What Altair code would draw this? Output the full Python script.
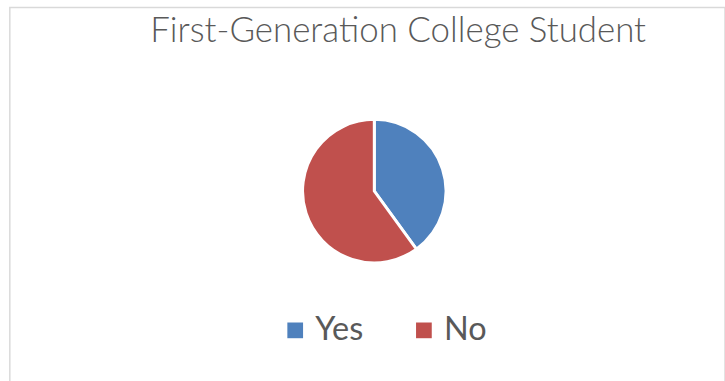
import altair as alt
import pandas as pd

categories = ["Yes", "No"]
values = [40, 60]
colors = ["#4F81BD", "#C0504D"]

df = pd.DataFrame({"category": categories, "value": values, "order": [0, 1]})

chart = alt.Chart(df).mark_arc(
    outerRadius=73, stroke="white", strokeWidth=3
).encode(
    theta=alt.Theta("value:Q", stack=True),
    order=alt.Order("order:Q"),
    color=alt.Color(
        "category:N",
        sort=categories,
        scale=alt.Scale(domain=categories, range=colors),
        legend=alt.Legend(
            title=None,
            orient="none",
            direction="horizontal",
            legendX=274,
            legendY=312,
            symbolType="square",
            symbolSize=256,
            symbolStrokeWidth=0,
            labelFont="Lato",
            labelFontSize=33,
            labelColor="#595959",
            labelOffset=4,
            columnPadding=45,
        ),
    ),
    x=alt.value(371),
    y=alt.value(187),
).properties(
    width=728,
    height=390,
    padding={"left": 10, "top": 4, "right": 0, "bottom": 0},
    autosize=alt.AutoSizeParams(type="none"),
    title=alt.Title(
        "First-Generation College Student",
        font="Lato",
        fontSize=35.5,
        fontWeight=300,
        color="#595959",
        anchor="start",
        dx=143,
        dy=71,
        offset=0,
        baseline="alphabetic",
    ),
).configure_view(
    stroke="#d9d9d9", strokeWidth=1.5
)

chart.save("out.html", embed_options={"renderer": "svg", "actions": False})
